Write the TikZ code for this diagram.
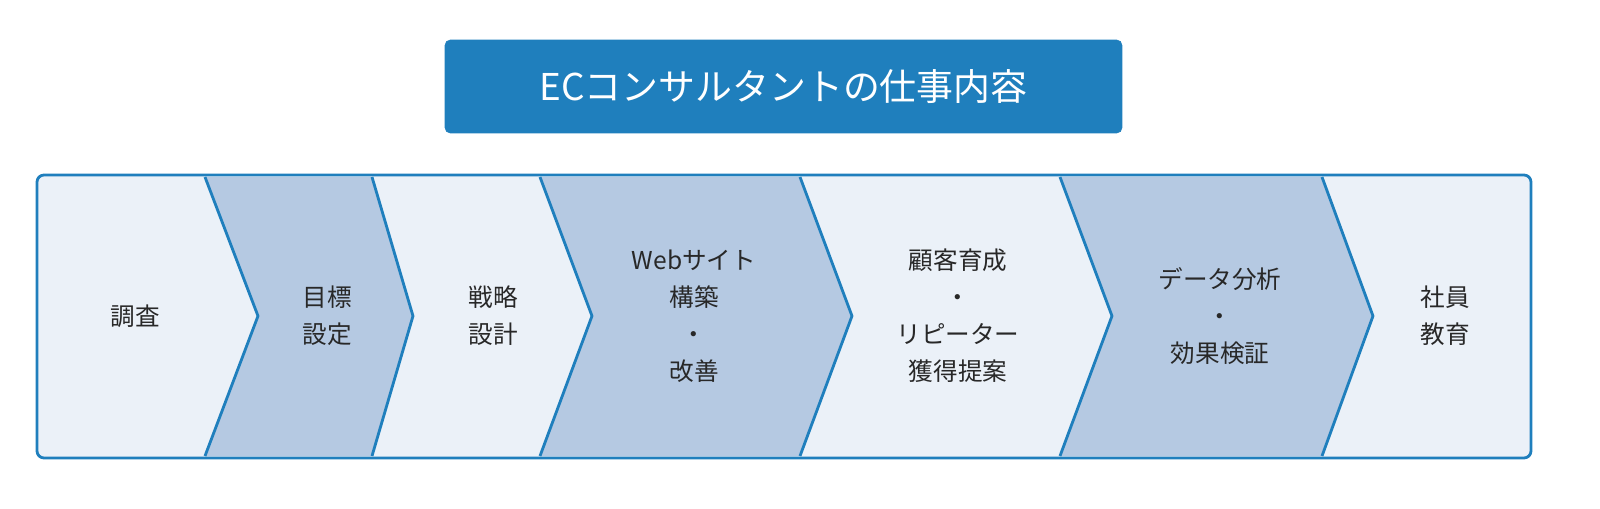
\documentclass[tikz,border=0pt]{standalone}
\usepackage{fontspec}
\setmainfont{Noto Sans CJK JP}
\usetikzlibrary{positioning}
\definecolor{ec_blue}{RGB}{31, 127, 189}
\definecolor{pale_blue}{RGB}{235, 241, 248}
\definecolor{soft_blue}{RGB}{181, 201, 226}
\definecolor{ink}{RGB}{40, 40, 40}

\begin{document}
\begin{tikzpicture}[
    x=0.02cm, y=-0.02cm,
    header/.style={
        rectangle,
        draw=#1,
        fill=#1,
        rounded corners=3pt,
        minimum width=13.54cm,
        minimum height=1.86cm,
        text=white,
        font=\fontsize{21}{25}\selectfont,
        align=center
    },
    stage/.style={
        text=#1,
        font=\fontsize{14}{21}\selectfont,
        align=center
    },
    band/.style={
        fill=#1,
        draw=none
    },
    edge/.style={
        line width=1.6pt,
        draw=#1,
        line join=round
    },
]
\useasboundingbox (0,0) rectangle (1600,508);

\node[header=ec_blue] (title) at (783.5,86.5) {ECコンサルタントの仕事内容};

% background band
\fill[pale_blue, rounded corners=4pt] (37,175) rectangle (1531,458);

% darker chevrons
\fill[band=soft_blue] (205,177) -- (372,177) -- (413,316) -- (372,456) -- (205,456) -- (258,316) -- cycle;
\fill[band=soft_blue] (540,177) -- (800,177) -- (852,316) -- (800,456) -- (540,456) -- (592,316) -- cycle;
\fill[band=soft_blue] (1060,177) -- (1322,177) -- (1373,316) -- (1322,456) -- (1060,456) -- (1112,316) -- cycle;

% chevron borders
\foreach \xa/\xb in {205/258, 372/413, 540/592, 800/852, 1060/1112, 1322/1373}
    \draw[edge=ec_blue] (\xa,177) -- (\xb,316) -- (\xa,456);
\draw[edge=ec_blue, rounded corners=4pt] (37,175) rectangle (1531,458);

\node[stage=ink] (survey) at (135,316) {調査};
\node[stage=ink] (goal) at (327,316) {目標\\設定};
\node[stage=ink] (strategy) at (493,316) {戦略\\設計};
\node[stage=ink] (website) at (694,316) {Webサイト\\構築\\・\\改善};
\node[stage=ink] (customer) at (958,316) {顧客育成\\・\\リピーター\\獲得提案};
\node[stage=ink] (analysis) at (1220,316) {データ分析\\・\\効果検証};
\node[stage=ink] (training) at (1445,316) {社員\\教育};

\end{tikzpicture}
\end{document}
